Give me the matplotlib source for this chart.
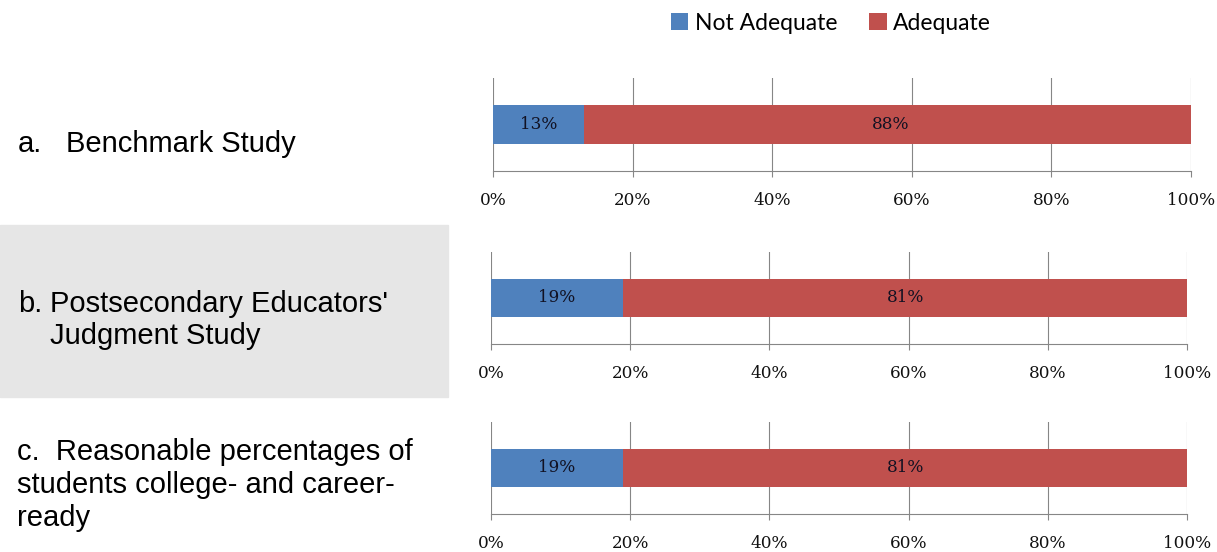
import matplotlib
matplotlib.use("Agg")
import matplotlib.pyplot as plt

# data
studies = [
    ["a.", "Benchmark Study"],
    ["b.", "Postsecondary Educators'", "Judgment Study"],
    ["c.  Reasonable percentages of", "students college- and career-", "ready"],
]
not_adequate = [13, 19, 19]
adequate = [88, 81, 81]
ticks = [0, 20, 40, 60, 80, 100]
tick_labels = ["0%", "20%", "40%", "60%", "80%", "100%"]
series_names = ["Not Adequate", "Adequate"]

BLUE = "#4F81BD"
RED = "#C0504D"
GRID = "#868686"

W, H = 1217, 552
fig = plt.figure(figsize=(W / 100, H / 100), dpi=100)

def px_axes(left, right, top, bottom):
    return fig.add_axes([left / W, 1 - bottom / H, (right - left) / W, (bottom - top) / H])

# gray cell behind study b
fig.patches.append(plt.Rectangle((0, 1 - 397 / H), 448 / W, (397 - 225) / H,
                                 transform=fig.transFigure, color="#E6E6E6", zorder=0))

# axes boxes in pixel coords: left, right, top, bottom
boxes = [(493, 1191, 78, 171), (491, 1187, 252, 344), (491, 1187, 422, 514)]

for i, (l, r, t, b) in enumerate(boxes):
    ax = px_axes(l, r, t, b)
    ax.set_facecolor("none")
    b1 = ax.barh([0], [not_adequate[i]], height=0.41, color=BLUE, label=series_names[0], zorder=3)
    b2 = ax.barh([0], [adequate[i]], left=[not_adequate[i]], height=0.41, color=RED,
                 label=series_names[1], zorder=3)
    ax.text(not_adequate[i] / 2, 0, f"{not_adequate[i]}%", ha="center", va="center",
            family="DejaVu Serif", fontsize=12.2, color="#111122", zorder=4)
    ax.text(not_adequate[i] + adequate[i] / 2, 0, f"{adequate[i]}%", ha="center", va="center",
            family="DejaVu Serif", fontsize=12.2, color="#111122", zorder=4)
    ax.set_xlim(0, 100)
    ax.set_ylim(-0.5, 0.5)
    ax.set_xticks(ticks)
    ax.set_xticklabels(tick_labels, family="DejaVu Serif", fontsize=12.2, color="#111111")
    ax.set_yticks([])
    ax.grid(axis="x", color=GRID, linewidth=0.8, zorder=0)
    for s in ["top", "right", "left"]:
        ax.spines[s].set_visible(False)
    ax.spines["bottom"].set_color(GRID)
    ax.spines["bottom"].set_linewidth(0.8)
    ax.tick_params(axis="x", length=4, width=0.8, color=GRID, pad=11)
    if i == 0:
        handles = [b1, b2]

# left-hand study labels (pixel baselines)
fs = 21
fam = "Liberation Sans"
fig.text(18 / W, 1 - 152 / H, studies[0][0], fontsize=fs, family=fam, va="baseline")
fig.text(66 / W, 1 - 152 / H, studies[0][1], fontsize=fs, family=fam, va="baseline")
fig.text(18 / W, 1 - 312 / H, studies[1][0], fontsize=fs, family=fam, va="baseline")
fig.text(50 / W, 1 - 312 / H, studies[1][1], fontsize=fs, family=fam, va="baseline")
fig.text(50 / W, 1 - 344 / H, studies[1][2], fontsize=fs, family=fam, va="baseline")
for j, y in enumerate([460, 493, 526]):
    fig.text(17 / W, 1 - y / H, studies[2][j], fontsize=fs, family=fam, va="baseline")

fig.legend(handles, series_names, loc="center", bbox_to_anchor=(831 / W, 1 - 23 / H),
           ncol=2, frameon=False, prop={"family": "Lato", "size": 16.5},
           handlelength=0.75, handleheight=0.8, handletextpad=0.3, columnspacing=1.4,
           borderpad=0, borderaxespad=0)

fig.savefig("out.png", dpi=100)
